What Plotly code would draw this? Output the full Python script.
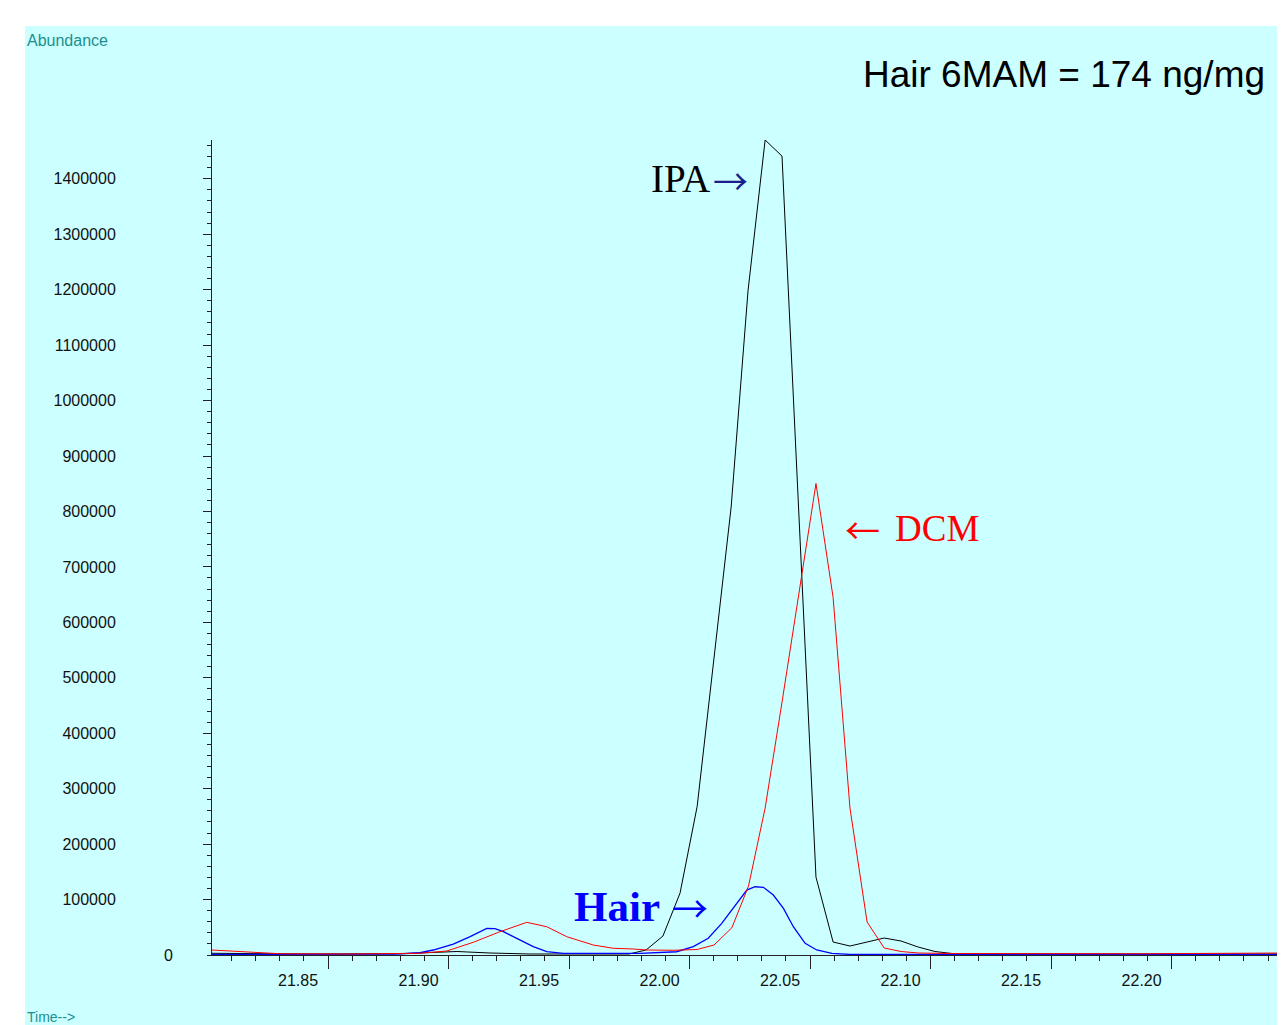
import plotly.graph_objects as go

# ---- data ----
ipa_time = [21.8143, 21.8508, 21.8923, 21.9006, 21.9159, 21.9297, 21.9463, 21.9873, 21.9944, 22.0014,
            22.0085, 22.0156, 22.0226, 22.0297, 22.0367, 22.0438, 22.0508, 22.0579, 22.0649, 22.0720,
            22.0790, 22.0861, 22.0932, 22.1002, 22.1073, 22.1143, 22.1214, 22.1413, 22.2595]
ipa_abund = [3100, 1800, 2200, 3600, 6300, 3600, 1800, 1800, 9000, 34200,
             111700, 268000, 535000, 808000, 1198000, 1470000, 1441000, 791000, 140500, 23400,
             16200, 23400, 30600, 25200, 14400, 6300, 2700, 1800, 1800]

dcm_time = [21.8142, 21.8329, 21.8425, 21.8716, 21.9006, 21.9117, 21.9227, 21.9338, 21.9449, 21.9532,
            21.9615, 21.9725, 21.9808, 21.9891, 21.9947, 22.0057, 22.0156, 22.0226, 22.0300, 22.0369,
            22.0438, 22.0508, 22.0579, 22.0649, 22.0720, 22.0790, 22.0861, 22.0932, 22.1002, 22.1073,
            22.1206, 22.2000, 22.2595]
dcm_abund = [9000, 4100, 2300, 1800, 3100, 7200, 22900, 42000, 58900, 51000,
             33000, 18000, 12100, 10800, 9000, 8500, 9900, 18000, 49200, 124300,
             264900, 455900, 657700, 850400, 645000, 264900, 59500, 12600, 6300, 3600,
             2700, 2200, 3600]

hair_time = [21.8143, 21.8900, 21.9006, 21.9061, 21.9144, 21.9214, 21.9283, 21.9317, 21.9352, 21.9407,
             21.9476, 21.9532, 21.9601, 21.9919, 22.0002, 22.0071, 22.0140, 22.0202, 22.0258, 22.0300,
             22.0334, 22.0362, 22.0396, 22.0431, 22.0472, 22.0514, 22.0555, 22.0604, 22.0652, 22.0715,
             22.0790, 22.2595]
hair_abund = [1000, 1500, 4100, 9000, 19800, 33000, 48100, 47400, 42000, 30100,
              15000, 5900, 3100, 3100, 4100, 5900, 15000, 30100, 57100, 81100,
              99100, 117100, 123100, 122000, 108100, 84100, 51000, 21100, 9000, 3100,
              1000, 1000]

x_tick_vals = [21.85, 21.90, 21.95, 22.00, 22.05, 22.10, 22.15, 22.20]
x_tick_text = ["21.85", "21.90", "21.95", "22.00", "22.05", "22.10", "22.15", "22.20"]
y_tick_vals = [100000, 200000, 300000, 400000, 500000, 600000, 700000,
               800000, 900000, 1000000, 1100000, 1200000, 1300000, 1400000]
y_tick_text = [str(v) for v in y_tick_vals]

X_RANGE = [21.8143, 22.2595]
Y_RANGE = [0, 1470000]

SANS = "Liberation Sans, Arial, sans-serif"
SERIF = "Liberation Serif, Times New Roman, serif"
ARROW = "Noto Sans CJK JP, DejaVu Sans, sans-serif"
CYAN = "#ccffff"
TEAL = "#1b8f8f"
AXIS = "#222222"

fig = go.Figure()
fig.add_trace(go.Scatter(x=ipa_time, y=ipa_abund, mode="lines", name="IPA",
                         line=dict(color="#000000", width=1), cliponaxis=False))
fig.add_trace(go.Scatter(x=hair_time, y=hair_abund, mode="lines", name="Hair",
                         line=dict(color="#0000ff", width=1.3), cliponaxis=False))
# DCM drawn against the overlaying tick axis (same range) so that axis gets rendered
fig.add_trace(go.Scatter(x=dcm_time, y=dcm_abund, mode="lines", name="DCM", xaxis="x2", yaxis="y",
                         line=dict(color="#ff0000", width=1), cliponaxis=False))

fig.update_layout(
    width=1277, height=1017,
    margin=dict(l=204, r=0, t=132, b=70, pad=0),
    paper_bgcolor="white", plot_bgcolor=CYAN,
    showlegend=False,
    font=dict(family=SANS, size=16, color="#111111"),
    xaxis=dict(range=X_RANGE, tickvals=x_tick_vals, ticktext=x_tick_text, ticks="",
               ticklabelstandoff=11,
               showline=True, linecolor=AXIS, linewidth=1, showgrid=False, zeroline=False,
               tickfont=dict(family=SANS, size=16, color="#111111")),
    xaxis2=dict(range=X_RANGE, overlaying="x", anchor="y", side="bottom",
                tick0=21.86245, dtick=0.05, ticks="outside", ticklen=13, tickwidth=1,
                tickcolor=AXIS, showticklabels=False, showgrid=False, zeroline=False,
                showline=False,
                minor=dict(tick0=21.82245, dtick=0.01, ticks="outside", ticklen=5,
                           tickwidth=1, tickcolor=AXIS, showgrid=False)),
    yaxis=dict(range=Y_RANGE, tickvals=y_tick_vals, ticktext=y_tick_text, ticks="outside",
               ticklen=8, tickwidth=1, tickcolor=AXIS, ticklabelstandoff=84,
               showline=True, linecolor=AXIS, linewidth=1, showgrid=False, zeroline=False,
               tickfont=dict(family=SANS, size=16, color="#111111"),
               minor=dict(dtick=20000, ticks="outside", ticklen=4, tickwidth=1,
                          tickcolor=AXIS, showgrid=False)),
)

# cyan panel behind everything
fig.add_shape(type="rect", xref="paper", yref="paper", x0=-0.1743, x1=1.0, y0=-0.0859, y1=1.1399,
              fillcolor=CYAN, line=dict(width=0), layer="below")

ann = []
ann.append(dict(text="Abundance", xref="paper", yref="paper", x=-0.1743, y=1.1215,
                xanchor="left", yanchor="middle", showarrow=False,
                font=dict(family=SANS, size=16, color=TEAL)))
ann.append(dict(text="Time-->", xref="paper", yref="paper", x=-0.1743, y=-0.0760,
                xanchor="left", yanchor="middle", showarrow=False,
                font=dict(family=SANS, size=14, color=TEAL)))
ann.append(dict(text="0", xref="paper", yref="y", x=-0.0410, y=0,
                xanchor="center", yanchor="middle", showarrow=False,
                font=dict(family=SANS, size=16, color="#111111")))
ann.append(dict(text="Hair 6MAM = 174 ng/mg", xref="paper", yref="paper", x=0.9830, y=1.0798,
                xanchor="right", yanchor="middle", showarrow=False,
                font=dict(family=SANS, size=37, color="#000000")))
# peak labels
ann.append(dict(text="IPA", xref="x", yref="y", x=22.0218, y=1400000,
                xanchor="right", yanchor="middle", showarrow=False,
                font=dict(family=SERIF, size=39, color="#000000")))
ann.append(dict(text="→", xref="x", yref="y", x=22.0295, y=1398200,
                xanchor="center", yanchor="middle", showarrow=False,
                font=dict(family=ARROW, size=35, color="#1c1c8c")))
ann.append(dict(text="DCM", xref="x", yref="y", x=22.0969, y=769000,
                xanchor="left", yanchor="middle", showarrow=False,
                font=dict(family=SERIF, size=37, color="#ff0000")))
ann.append(dict(text="←", xref="x", yref="y", x=22.0840, y=769400,
                xanchor="center", yanchor="middle", showarrow=False,
                font=dict(family=ARROW, size=35, color="#ff0000")))
ann.append(dict(text="<b>Hair</b>", xref="x", yref="y", x=21.9635, y=88000,
                xanchor="left", yanchor="middle", showarrow=False,
                font=dict(family=SERIF, size=43, color="#0000ff")))
ann.append(dict(text="→", xref="x", yref="y", x=22.0127, y=86500,
                xanchor="center", yanchor="middle", showarrow=False,
                font=dict(family=ARROW, size=36, color="#0000ff")))
fig.update_layout(annotations=ann)

fig.write_html("out.html")
